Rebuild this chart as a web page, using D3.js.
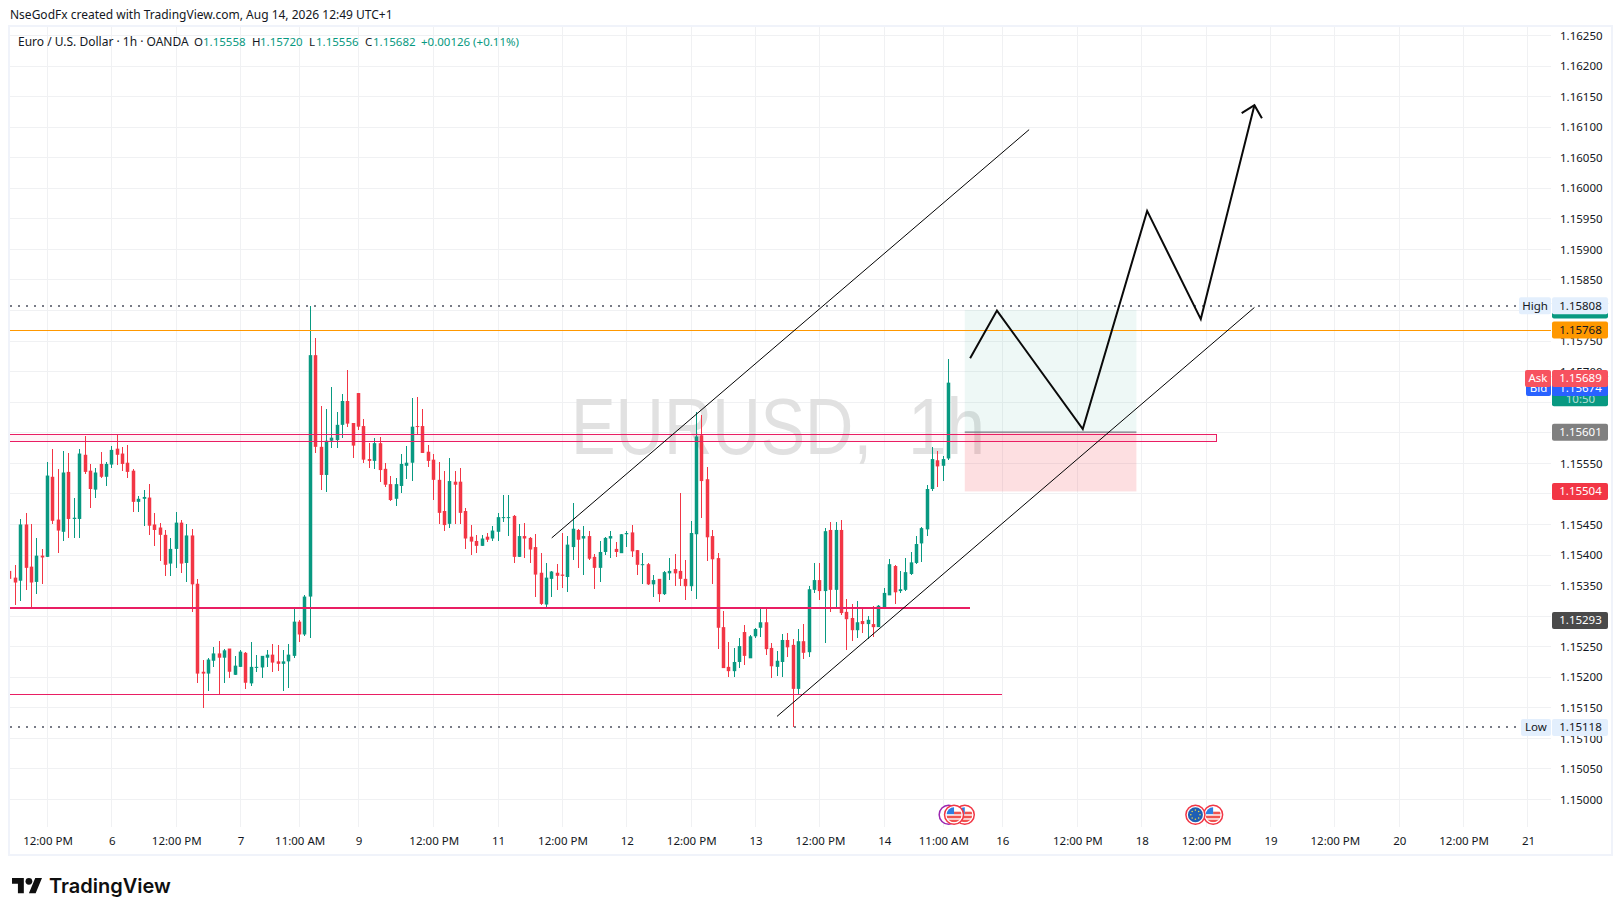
<!DOCTYPE html>
<html>
<head>
<meta charset="utf-8">
<title>EURUSD 1h</title>
<script src="https://cdn.jsdelivr.net/npm/d3@7"></script>
<style>
  html, body { margin: 0; padding: 0; background: #fff; }
  svg { display: block; }
  text { font-family: "Noto Sans", sans-serif; font-size: 11.5px; fill: #131722; }
  .axis path, .axis line { display: none; }
</style>
</head>
<body>
<svg id="chart" width="1623" height="916"></svg>
<script>
// candles, hourly
const opens = [
  1.15374,1.15363,1.15358,1.15450,1.15381,1.15356,1.15399,1.15397,1.15528,1.15458,1.15438,1.15536,1.15459,1.15459,1.15564,1.15538,
  1.15507,1.15549,1.15528,1.15548,1.15574,1.15566,1.15551,1.15538,1.15487,1.15492,1.15494,1.15450,1.15445,1.15433,1.15386,1.15410,
  1.15453,1.15387,1.15432,1.15353,1.15209,1.15206,1.15227,1.15239,1.15232,1.15247,1.15204,1.15217,1.15240,1.15190,1.15216,1.15216,
  1.15232,1.15237,1.15226,1.15222,1.15226,1.15235,1.15291,1.15270,1.15332,1.15727,1.15577,1.15531,1.15587,1.15588,1.15613,1.15652,
  1.15616,1.15665,1.15611,1.15557,1.15554,1.15583,1.15541,1.15516,1.15492,1.15513,1.15546,1.15551,1.15611,1.15611,1.15569,1.15556,
  1.15523,1.15472,1.15451,1.15520,1.15520,1.15472,1.15430,1.15423,1.15415,1.15430,1.15427,1.15438,1.15461,1.15461,1.15464,1.15397,
  1.15431,1.15428,1.15413,1.15371,1.15319,1.15361,1.15371,1.15368,1.15364,1.15413,1.15441,1.15427,1.15431,1.15397,1.15379,1.15405,
  1.15427,1.15410,1.15403,1.15434,1.15437,1.15408,1.15384,1.15385,1.15352,1.15361,1.15336,1.15370,1.15377,1.15374,1.15361,1.15349,
  1.15434,1.15596,1.15524,1.15431,1.15395,1.15282,1.15217,1.15210,1.15225,1.15274,1.15231,1.15267,1.15281,1.15290,1.15248,1.15217,
  1.15225,1.15261,1.15253,1.15181,1.15259,1.15241,1.15343,1.15359,1.15341,1.15441,1.15343,1.15441,1.15307,1.15297,1.15277,1.15292,
  1.15287,1.15287,1.15282,1.15314,1.15334,1.15382,1.15341,1.15343,1.15369,1.15387,1.15419,1.15442,1.15508,1.15555,1.15546,1.15558
];
const highs = [
  1.15403,1.15383,1.15459,1.15469,1.15450,1.15428,1.15410,1.15553,1.15574,1.15541,1.15571,1.15567,1.15494,1.15574,1.15595,1.15549,
  1.15543,1.15569,1.15553,1.15579,1.15598,1.15577,1.15580,1.15540,1.15497,1.15507,1.15517,1.15468,1.15453,1.15441,1.15428,1.15471,
  1.15458,1.15451,1.15443,1.15360,1.15229,1.15231,1.15249,1.15260,1.15247,1.15247,1.15234,1.15245,1.15242,1.15257,1.15237,1.15235,
  1.15245,1.15255,1.15252,1.15245,1.15255,1.15314,1.15293,1.15335,1.15808,1.15755,1.15644,1.15639,1.15675,1.15634,1.15664,1.15703,
  1.15616,1.15665,1.15623,1.15583,1.15592,1.15593,1.15551,1.15530,1.15526,1.15566,1.15579,1.15657,1.15659,1.15639,1.15580,1.15566,
  1.15552,1.15538,1.15559,1.15538,1.15543,1.15477,1.15449,1.15433,1.15433,1.15436,1.15448,1.15469,1.15498,1.15498,1.15466,1.15451,
  1.15453,1.15430,1.15435,1.15404,1.15387,1.15374,1.15386,1.15436,1.15431,1.15485,1.15443,1.15448,1.15440,1.15402,1.15423,1.15430,
  1.15440,1.15422,1.15435,1.15439,1.15449,1.15408,1.15403,1.15387,1.15367,1.15361,1.15374,1.15395,1.15402,1.15501,1.15392,1.15455,
  1.15634,1.15629,1.15544,1.15441,1.15403,1.15308,1.15257,1.15248,1.15264,1.15285,1.15269,1.15281,1.15315,1.15312,1.15256,1.15243,
  1.15271,1.15272,1.15263,1.15279,1.15287,1.15349,1.15387,1.15387,1.15444,1.15454,1.15454,1.15457,1.15328,1.15320,1.15325,1.15313,
  1.15300,1.15317,1.15318,1.15346,1.15393,1.15384,1.15374,1.15395,1.15405,1.15431,1.15446,1.15514,1.15576,1.15570,1.15562,1.15720
];
const lows = [
  1.15347,1.15319,1.15325,1.15342,1.15314,1.15337,1.15353,1.15397,1.15450,1.15404,1.15423,1.15428,1.15428,1.15428,1.15533,1.15477,
  1.15494,1.15526,1.15513,1.15543,1.15548,1.15538,1.15526,1.15471,1.15471,1.15448,1.15432,1.15414,1.15391,1.15366,1.15366,1.15378,
  1.15370,1.15356,1.15306,1.15191,1.15149,1.15177,1.15217,1.15173,1.15190,1.15198,1.15204,1.15217,1.15181,1.15185,1.15208,1.15198,
  1.15217,1.15209,1.15211,1.15178,1.15183,1.15231,1.15257,1.15267,1.15264,1.15567,1.15507,1.15503,1.15575,1.15575,1.15592,1.15610,
  1.15559,1.15605,1.15551,1.15543,1.15541,1.15520,1.15512,1.15489,1.15480,1.15502,1.15525,1.15521,1.15597,1.15567,1.15544,1.15490,
  1.15451,1.15440,1.15445,1.15451,1.15451,1.15410,1.15400,1.15404,1.15415,1.15422,1.15423,1.15423,1.15454,1.15431,1.15387,1.15397,
  1.15395,1.15387,1.15332,1.15319,1.15315,1.15332,1.15343,1.15346,1.15340,1.15392,1.15379,1.15368,1.15392,1.15345,1.15356,1.15400,
  1.15395,1.15397,1.15403,1.15413,1.15397,1.15367,1.15352,1.15351,1.15331,1.15323,1.15334,1.15359,1.15349,1.15349,1.15326,1.15341,
  1.15328,1.15460,1.15390,1.15352,1.15246,1.15215,1.15200,1.15200,1.15215,1.15220,1.15231,1.15264,1.15266,1.15236,1.15199,1.15202,
  1.15200,1.15233,1.15118,1.15171,1.15230,1.15233,1.15338,1.15326,1.15256,1.15307,1.15313,1.15302,1.15245,1.15259,1.15264,1.15272,
  1.15263,1.15266,1.15282,1.15313,1.15334,1.15320,1.15338,1.15341,1.15367,1.15385,1.15388,1.15431,1.15505,1.15511,1.15521,1.15556
];
const closes = [
  1.15361,1.15355,1.15450,1.15379,1.15355,1.15399,1.15396,1.15530,1.15456,1.15440,1.15535,1.15459,1.15461,1.15566,1.15536,1.15508,
  1.15535,1.15528,1.15549,1.15572,1.15564,1.15549,1.15536,1.15487,1.15492,1.15495,1.15448,1.15441,1.15433,1.15384,1.15410,1.15453,
  1.15386,1.15432,1.15352,1.15206,1.15206,1.15229,1.15239,1.15232,1.15244,1.15209,1.15219,1.15242,1.15191,1.15217,1.15217,1.15235,
  1.15237,1.15224,1.15222,1.15226,1.15237,1.15291,1.15270,1.15332,1.15727,1.15577,1.15531,1.15587,1.15592,1.15613,1.15652,1.15615,
  1.15579,1.15610,1.15556,1.15554,1.15583,1.15539,1.15515,1.15490,1.15516,1.15549,1.15551,1.15610,1.15610,1.15567,1.15554,1.15523,
  1.15469,1.15449,1.15521,1.15515,1.15469,1.15427,1.15422,1.15415,1.15427,1.15425,1.15440,1.15462,1.15462,1.15462,1.15397,1.15431,
  1.15427,1.15409,1.15368,1.15320,1.15363,1.15373,1.15366,1.15366,1.15417,1.15443,1.15425,1.15431,1.15394,1.15379,1.15405,1.15428,
  1.15431,1.15405,1.15434,1.15436,1.15406,1.15384,1.15385,1.15352,1.15359,1.15336,1.15372,1.15374,1.15370,1.15361,1.15349,1.15436,
  1.15594,1.15521,1.15429,1.15393,1.15281,1.15215,1.15210,1.15225,1.15251,1.15235,1.15267,1.15279,1.15290,1.15246,1.15218,1.15227,
  1.15261,1.15249,1.15181,1.15259,1.15240,1.15344,1.15359,1.15341,1.15439,1.15343,1.15441,1.15305,1.15295,1.15277,1.15290,1.15287,
  1.15294,1.15282,1.15317,1.15338,1.15385,1.15339,1.15344,1.15372,1.15388,1.15418,1.15444,1.15508,1.15557,1.15545,1.15557,1.15682
];

// price scale and time scale labels
const priceTicks = [1.15,1.1505,1.151,1.1515,1.152,1.1525,1.153,1.1535,1.154,1.1545,1.155,1.1555,1.156,1.1565,1.157,1.1575,1.158,1.1585,1.159,1.1595,1.16,1.1605,1.161,1.1615,1.162,1.1625];
const timeTickIndex = [7,19,31,43,54,65,79,91,103,115,127,139,151,163,174,185,199,211,223,235,247,259,271,283];
const timeTickLabel = ["12:00 PM","6","12:00 PM","7","11:00 AM","9","12:00 PM","11","12:00 PM","12","12:00 PM","13","12:00 PM","14","11:00 AM","16","12:00 PM","18","12:00 PM","19","12:00 PM","20","12:00 PM","21"];

// levels
const highLevel = 1.15808, lowLevel = 1.15118, orangeLevel = 1.15768;
const zoneTop = 1.15597, zoneBottom = 1.15585, zoneEnd = 225;
const thickLevel = 1.15313, thickEnd = 179;
const thinLevel = 1.15172, thinEnd = 185;

// drawings, as [candle index, price]
const channelUpper = [[101,1.15428],[190,1.16096]];
const channelLower = [[143,1.15136],[232,1.15805]];
const projection = [[179,1.15722],[184,1.158],[200,1.15606],[212,1.15963],[222,1.15786],[232,1.16136]];
const positionStart = 178, positionEnd = 210;
const targetPrice = 1.15801, entryPrice = 1.15601, stopPrice = 1.15504;

// economic calendar marks
const euEvents = [221];
const usEvents = [178,176,224.3];
const otherEvents = [175];

const svg = d3.select('#chart');
const plotLeft = 10, plotRight = 1551, plotTop = 27, plotBottom = 827;

const x = d3.scaleLinear().domain([0, 283]).range([9.97, 9.97 + 283 * 5.364]);
const y = d3.scaleLinear().domain([1.15, 1.1625]).range([799.5, 35.5]);
const snap = v => Math.round(v - 0.5) + 0.5;

// frame
svg.append('rect').attr('x', plotLeft - 1).attr('y', plotTop - 1).attr('width', 1612 - plotLeft + 1).attr('height', 855 - plotTop + 1)
  .attr('fill', 'none').attr('stroke', '#f0f3fa').attr('stroke-width', 2);

// grid
const grid = svg.append('g').attr('stroke', '#f0f1f3').attr('shape-rendering', 'crispEdges');
grid.selectAll('.h').data(priceTicks).enter().append('line')
  .attr('x1', plotLeft).attr('x2', plotRight)
  .attr('y1', d => snap(y(d))).attr('y2', d => snap(y(d)));
grid.selectAll('.v').data(timeTickIndex).enter().append('line')
  .attr('y1', plotTop).attr('y2', plotBottom)
  .attr('x1', d => snap(x(d))).attr('x2', d => snap(x(d)));

// watermark, two parts because the gap after the comma is wide
const watermark = (text, left, width) => svg.append('text').attr('x', left).attr('y', 454)
  .attr('textLength', width).attr('lengthAdjust', 'spacingAndGlyphs')
  .style('font-size', '80px').style('font-family', '"Liberation Sans", sans-serif')
  .style('fill', '#e1e1e1').text(text);
watermark('EURUSD,', 571, 301);
watermark('1h', 908, 77);

const clipId = 'plot-clip';
svg.append('clipPath').attr('id', clipId).append('rect')
  .attr('x', plotLeft).attr('y', plotTop).attr('width', plotRight - plotLeft).attr('height', plotBottom - plotTop);
const plot = svg.append('g').attr('clip-path', `url(#${clipId})`);

// position tool
plot.append('rect').attr('x', x(positionStart)).attr('width', x(positionEnd) - x(positionStart))
  .attr('y', y(targetPrice)).attr('height', y(entryPrice) - y(targetPrice)).attr('fill', '#089981').attr('fill-opacity', 0.07);
plot.append('rect').attr('x', x(positionStart)).attr('width', x(positionEnd) - x(positionStart))
  .attr('y', y(entryPrice)).attr('height', y(stopPrice) - y(entryPrice)).attr('fill', '#f23645').attr('fill-opacity', 0.16);
plot.append('line').attr('x1', x(positionStart)).attr('x2', x(positionEnd))
  .attr('y1', y(entryPrice)).attr('y2', y(entryPrice)).attr('stroke', '#787b86').attr('stroke-width', 1.2);

// candles
const candles = d3.range(opens.length);
const colorOf = i => closes[i] >= opens[i] ? '#089981' : '#f23645';
const px = i => snap(x(i));
const wicks = plot.append('g').attr('shape-rendering', 'crispEdges');
wicks.selectAll('.wick').data(candles).enter().append('line')
  .attr('x1', px).attr('x2', px)
  .attr('y1', i => y(highs[i])).attr('y2', i => y(lows[i]))
  .attr('stroke', colorOf);
plot.append('g').selectAll('.body').data(candles).enter().append('rect')
  .attr('x', i => px(i) - 1.75).attr('width', 3.5)
  .attr('y', i => y(Math.max(opens[i], closes[i])))
  .attr('height', i => Math.max(1, Math.abs(y(opens[i]) - y(closes[i]))))
  .attr('fill', colorOf);

// levels
const levels = plot.append('g').attr('shape-rendering', 'crispEdges');
const dotted = (level) => levels.append('line').attr('x1', plotLeft).attr('x2', 1519)
  .attr('y1', Math.round(y(level))).attr('y2', Math.round(y(level))).attr('stroke', '#787b86').attr('stroke-width', 2).attr('stroke-dasharray', '2 6');
dotted(highLevel);
dotted(lowLevel);
levels.append('line').attr('x1', plotLeft).attr('x2', plotRight).attr('y1', snap(y(orangeLevel))).attr('y2', snap(y(orangeLevel)))
  .attr('stroke', '#ff9800').attr('stroke-width', 1);
levels.append('rect').attr('x', plotLeft - 2).attr('width', x(zoneEnd) - plotLeft + 2)
  .attr('y', snap(y(zoneTop))).attr('height', Math.round(y(zoneBottom) - y(zoneTop)))
  .attr('fill', '#e91e63').attr('fill-opacity', 0.05).attr('stroke', '#e91e63').attr('stroke-width', 1);
levels.append('line').attr('x1', plotLeft).attr('x2', x(thickEnd)).attr('y1', Math.round(y(thickLevel))).attr('y2', Math.round(y(thickLevel)))
  .attr('stroke', '#e91e63').attr('stroke-width', 2);
levels.append('line').attr('x1', plotLeft).attr('x2', x(thinEnd)).attr('y1', snap(y(thinLevel))).attr('y2', snap(y(thinLevel)))
  .attr('stroke', '#e91e63').attr('stroke-width', 1);

// channel and projected path
const line = d3.line().x(d => x(d[0])).y(d => y(d[1]));
[channelUpper, channelLower].forEach(c => {
  plot.append('path').attr('d', line(c)).attr('fill', 'none').attr('stroke', '#000').attr('stroke-width', 1);
});
plot.append('path').attr('d', line(projection)).attr('fill', 'none').attr('stroke', '#0a0a0a').attr('stroke-width', 2);

// arrow head on the last leg
const tip = projection[projection.length - 1], prev = projection[projection.length - 2];
const angle = Math.atan2(y(tip[1]) - y(prev[1]), x(tip[0]) - x(prev[0]));
const headLen = 15, headSpread = 0.77;
const headPoint = s => [x(tip[0]) - headLen * Math.cos(angle + s * headSpread), y(tip[1]) - headLen * Math.sin(angle + s * headSpread)];
plot.append('path')
  .attr('d', d3.line()([headPoint(1), [x(tip[0]), y(tip[1])], headPoint(-1)]))
  .attr('fill', 'none').attr('stroke', '#0a0a0a').attr('stroke-width', 2);

// axes
const yAxis = svg.append('g').attr('class', 'axis').attr('transform', 'translate(1556,0)')
  .call(d3.axisRight(y).tickValues(priceTicks).tickSize(0).tickPadding(4).tickFormat(d3.format('.5f')));
yAxis.selectAll('text').style('fill', '#131722');
const xAxis = svg.append('g').attr('class', 'axis').attr('transform', 'translate(0,833)')
  .call(d3.axisBottom(x).tickValues(timeTickIndex).tickSize(0).tickPadding(4).tickFormat((d, i) => timeTickLabel[i]));
xAxis.selectAll('text').style('fill', '#131722');

// price labels
function priceLabel(value, fill, textFill, text, extra) {
  const cy = y(value);
  svg.append('rect').attr('x', 1552).attr('width', 56).attr('y', cy - 8.5).attr('height', extra ? 17 + extra : 17).attr('rx', 2).attr('fill', fill);
  svg.append('text').attr('x', 1580.5).attr('y', cy).attr('dy', '0.35em').attr('text-anchor', 'middle')
    .style('fill', textFill).text(text || value.toFixed(5));
}
function sideLabel(value, fill, textFill, text, w) {
  const cy = y(value);
  svg.append('rect').attr('x', 1551 - w).attr('width', w).attr('y', cy - 8.5).attr('height', 17).attr('rx', 2).attr('fill', fill);
  svg.append('text').attr('x', 1551 - w / 2).attr('y', cy).attr('dy', '0.35em').attr('text-anchor', 'middle').style('fill', textFill).text(text);
}
const lastClose = closes[closes.length - 1];
const askPrice = 1.15689, bidPrice = 1.15674;

priceLabel(targetPrice, '#089981', '#ffffff');
priceLabel(highLevel, '#e3effd', '#131722');
sideLabel(highLevel, '#e3effd', '#131722', 'High', 32);
priceLabel(orangeLevel, '#ff9800', '#131722');
priceLabel(lastClose, '#089981', '#ffffff', null, 15);
svg.append('text').attr('x', 1580.5).attr('y', y(lastClose) + 16).attr('dy', '0.35em').attr('text-anchor', 'middle')
  .style('fill', '#ffffff').style('fill-opacity', 0.7).text('10:50');
priceLabel(bidPrice, '#2962ff', '#ffffff');
sideLabel(bidPrice, '#2962ff', '#ffffff', 'Bid', 25);
priceLabel(askPrice, '#f7525f', '#ffffff');
sideLabel(askPrice, '#f7525f', '#ffffff', 'Ask', 26);
priceLabel(entryPrice, '#808080', '#ffffff');
priceLabel(stopPrice, '#f23645', '#ffffff');
priceLabel(1.15293, '#4a4a4a', '#ffffff');
priceLabel(lowLevel, '#e3effd', '#131722');
sideLabel(lowLevel, '#e3effd', '#131722', 'Low', 30);

// calendar marks
const defs = svg.append('defs');
const markY = 814.7, markR = 9.5;
function usFlag(cx, id) {
  const g = svg.append('g');
  defs.append('clipPath').attr('id', id).append('circle').attr('cx', cx).attr('cy', markY).attr('r', markR - 2);
  g.append('circle').attr('cx', cx).attr('cy', markY).attr('r', markR).attr('fill', '#fff').attr('stroke', '#f23645').attr('stroke-width', 1.5);
  const f = g.append('g').attr('clip-path', `url(#${id})`);
  f.append('rect').attr('x', cx - 8).attr('y', markY - 8).attr('width', 16).attr('height', 16).attr('fill', '#fff');
  [-2, 2, 6].forEach((o, k) => f.append('rect').attr('x', k ? cx - 8 : cx).attr('y', markY + o - 1).attr('width', 16).attr('height', 2.6).attr('fill', '#f05350'));
  f.append('rect').attr('x', cx - 8).attr('y', markY - 8).attr('width', 8).attr('height', 7.5).attr('fill', '#2f7de1');
}
function euFlag(cx) {
  svg.append('circle').attr('cx', cx).attr('cy', markY).attr('r', markR).attr('fill', '#fff').attr('stroke', '#f23645').attr('stroke-width', 1.5);
  svg.append('circle').attr('cx', cx).attr('cy', markY).attr('r', markR - 2).attr('fill', '#1e5fb4');
  d3.range(8).forEach(k => svg.append('circle')
    .attr('cx', cx + 4.6 * Math.cos(k * Math.PI / 4)).attr('cy', markY + 4.6 * Math.sin(k * Math.PI / 4))
    .attr('r', 0.8).attr('fill', '#e8d44d'));
}
otherEvents.forEach(e => svg.append('circle').attr('cx', x(e)).attr('cy', markY).attr('r', markR)
  .attr('fill', '#fff').attr('stroke', '#9c27b0').attr('stroke-width', 1.5));
usEvents.forEach((e, k) => usFlag(x(e), 'us' + k));
euEvents.forEach(e => euFlag(x(e)));

// header
svg.append('text').attr('x', 10).attr('y', 19).style('font-size', '12px').text('NseGodFx created with TradingView.com, Aug 14, 2026 12:49 UTC+1');

const legend = svg.append('text').attr('y', 46);
legend.append('tspan').attr('x', 18).style('font-size', '12px').text('Euro / U.S. Dollar · 1h · OANDA');
const last = opens.length - 1;
const ohlcNames = ['O', 'H', 'L', 'C'];
const ohlcValues = [opens[last], highs[last], lows[last], closes[last]];
const nameX = [194, 252, 309, 365], valueX = [203, 260, 316, 373];
ohlcNames.forEach((n, k) => {
  legend.append('tspan').attr('x', nameX[k]).text(n);
  legend.append('tspan').attr('x', valueX[k]).style('fill', '#089981').text(ohlcValues[k].toFixed(5));
});
legend.append('tspan').attr('x', 421).style('fill', '#089981').text('+0.00126 (+0.11%)');

// logo
const logo = svg.append('g').attr('transform', 'translate(12,872) scale(0.845)').attr('fill', '#0f0f0f');
logo.append('path').attr('d', 'M14 25H7V14H0V7h14v18zM28 25h-8l7.5-18h8L28 25z');
logo.append('circle').attr('cx', 20).attr('cy', 11).attr('r', 4);
svg.append('text').attr('x', 49).attr('y', 893).style('font-family', 'Inter, sans-serif').style('font-size', '20px').style('font-weight', 600)
  .style('fill', '#0f0f0f').text('TradingView');
</script>
</body>
</html>
